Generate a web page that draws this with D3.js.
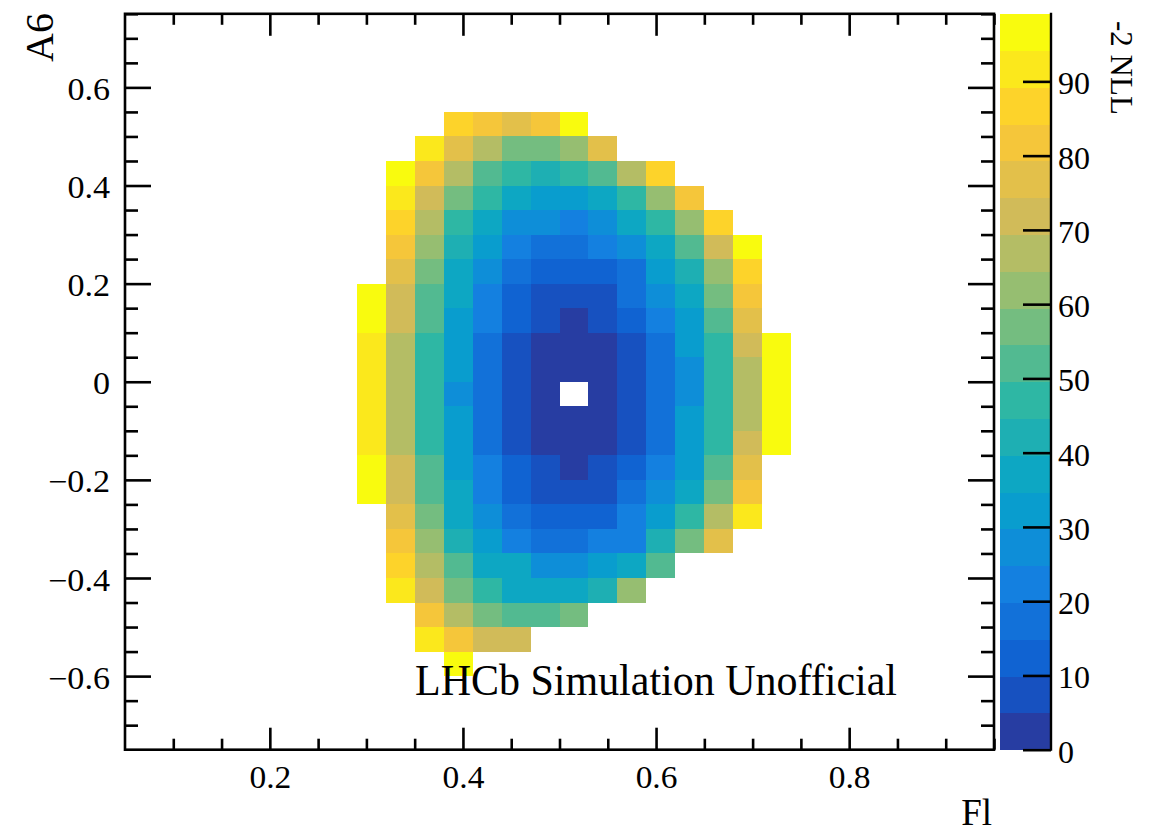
<!DOCTYPE html>
<html>
<head>
<meta charset="utf-8">
<script src="https://cdn.jsdelivr.net/npm/d3@7"></script>
<style>
  html, body { margin: 0; padding: 0; background: #ffffff; }
  text { font-family: "Liberation Serif", "Times New Roman", Times, serif; fill: #000; }
</style>
</head>
<body>
<svg id="chart" width="1159" height="832"></svg>
<script>
// ---------------- DATA ----------------
// Lower edges of the Fl bins that are shown (bin width 0.03)
const flBinLow = [0.29, 0.32, 0.35, 0.38, 0.41, 0.44, 0.47, 0.50, 0.53, 0.56, 0.59, 0.62, 0.65, 0.68, 0.71];
// Lower edges of the A6 bins, top row first (bin height 0.05)
const a6BinLow = [0.50, 0.45, 0.40, 0.35, 0.30, 0.25, 0.20, 0.15, 0.10, 0.05, 0.00, -0.05, -0.10,
                  -0.15, -0.20, -0.25, -0.30, -0.35, -0.40, -0.45, -0.50, -0.55, -0.60];
const flBinWidth = 0.03;
const a6BinWidth = 0.05;
// -2 NLL per cell (rows follow a6BinLow, columns follow flBinLow); null = not drawn
const nll = [
  [null, null, null, 86.5, 81.5, 76.6, 81.5, 96.3, null, null, null, null, null, null, null],
  [null, null, 91.4, 76.6, 66.7, 56.8, 56.8, 61.8, 76.6, null, null, null, null, null, null],
  [null, 96.3, 81.5, 66.7, 51.9, 46.9, 42.0, 46.9, 51.9, 66.7, 86.5, null, null, null, null],
  [null, 91.4, 71.6, 56.8, 46.9, 37.1, 32.1, 32.1, 37.1, 46.9, 61.8, 81.5, null, null, null],
  [null, 86.5, 66.7, 46.9, 37.1, 27.2, 27.2, 22.2, 27.2, 37.1, 46.9, 61.8, 86.5, null, null],
  [null, 81.5, 61.8, 42.0, 32.1, 22.2, 17.3, 17.3, 22.2, 27.2, 37.1, 51.9, 71.6, 96.3, null],
  [null, 76.6, 56.8, 37.1, 27.2, 17.3, 12.4, 12.4, 12.4, 17.3, 32.1, 42.0, 61.8, 86.5, null],
  [96.3, 71.6, 51.9, 37.1, 22.2, 12.4, 7.4, 7.4, 7.4, 17.3, 27.2, 37.1, 56.8, 81.5, null],
  [96.3, 71.6, 51.9, 32.1, 22.2, 12.4, 7.4, 2.5, 7.4, 12.4, 22.2, 32.1, 51.9, 76.6, null],
  [91.4, 66.7, 46.9, 32.1, 17.3, 7.4, 2.5, 2.5, 2.5, 7.4, 17.3, 32.1, 46.9, 71.6, 96.3],
  [91.4, 66.7, 46.9, 32.1, 17.3, 7.4, 2.5, 2.5, 2.5, 7.4, 17.3, 27.2, 46.9, 66.7, 96.3],
  [91.4, 66.7, 46.9, 27.2, 17.3, 7.4, 2.5, 0.0, 2.5, 7.4, 17.3, 27.2, 46.9, 66.7, 96.3],
  [91.4, 66.7, 46.9, 32.1, 17.3, 7.4, 2.5, 2.5, 2.5, 7.4, 17.3, 32.1, 46.9, 66.7, 96.3],
  [91.4, 66.7, 46.9, 32.1, 17.3, 7.4, 2.5, 2.5, 2.5, 7.4, 17.3, 32.1, 46.9, 71.6, 96.3],
  [96.3, 71.6, 51.9, 32.1, 22.2, 12.4, 7.4, 2.5, 7.4, 12.4, 22.2, 32.1, 51.9, 76.6, null],
  [96.3, 71.6, 51.9, 37.1, 22.2, 12.4, 7.4, 7.4, 7.4, 17.3, 27.2, 37.1, 56.8, 81.5, null],
  [null, 76.6, 56.8, 37.1, 27.2, 17.3, 12.4, 12.4, 12.4, 22.2, 32.1, 46.9, 66.7, 91.4, null],
  [null, 81.5, 61.8, 42.0, 32.1, 22.2, 17.3, 17.3, 22.2, 22.2, 42.0, 56.8, 76.6, null, null],
  [null, 86.5, 66.7, 51.9, 37.1, 37.1, 27.2, 27.2, 32.1, 37.1, 51.9, null, null, null, null],
  [null, 91.4, 71.6, 56.8, 46.9, 37.1, 37.1, 37.1, 42.0, 61.8, null, null, null, null, null],
  [null, null, 81.5, 66.7, 56.8, 51.9, 51.9, 56.8, null, null, null, null, null, null, null],
  [null, null, 91.4, 81.5, 71.6, 71.6, null, null, null, null, null, null, null, null, null],
  [null, null, null, 96.3, null, null, null, null, null, null, null, null, null, null, null]
];
const xMajorTicks = [0.2, 0.4, 0.6, 0.8];
const yMajorTicks = [-0.6, -0.4, -0.2, 0, 0.2, 0.4, 0.6];
const zTicks = [0, 10, 20, 30, 40, 50, 60, 70, 80, 90];
const zMax = 99.1;
const nLevels = 20;
const xTitle = "Fl";
const yTitle = "A6";
const zTitle = "-2 NLL";
const label = "LHCb Simulation Unofficial";

// ---------------- PALETTE (ROOT kBird) ----------------
const stops = [0.0, 0.125, 0.25, 0.375, 0.5, 0.625, 0.75, 0.875, 1.0];
const red   = [0.2082, 0.0592, 0.0780, 0.0232, 0.1802, 0.5301, 0.8186, 0.9956, 0.9764];
const green = [0.1664, 0.3599, 0.5041, 0.6419, 0.7178, 0.7492, 0.7328, 0.7862, 0.9832];
const blue  = [0.5293, 0.8111, 0.8814, 0.7902, 0.6425, 0.4662, 0.3499, 0.1968, 0.0539];
function bird(t) {
  let s = 1;
  while (s < stops.length - 1 && t > stops[s]) s++;
  const f = (t - stops[s - 1]) / (stops[s] - stops[s - 1]);
  const c = arr => Math.round(255 * (arr[s - 1] + f * (arr[s] - arr[s - 1])));
  return d3.rgb(c(red), c(green), c(blue)).formatHex();
}
const levelColors = d3.range(nLevels).map(i => {
  const idx = Math.floor((i + 0.99) * 255 / nLevels);
  return bird(Math.min(1, idx / 254));
});
const levelWidth = zMax / nLevels;
const colorOf = v => levelColors[Math.min(nLevels - 1, Math.floor(v / levelWidth))];

// ---------------- LAYOUT ----------------
const svg = d3.select("#chart");
const L = 125, R = 994, T = 13.8, B = 749.7;
const x = d3.scaleLinear().domain([0.05, 0.95]).range([L, R]);
const y = d3.scaleLinear().domain([-0.75, 0.75]).range([B, T]);
const z = d3.scaleLinear().domain([0, zMax]).range([B, T]);
const CB_L = 999.5, CB_R = 1051;
const lineW = 2.6;
const serif = '"Liberation Serif", "Times New Roman", Times, serif';

// ---------------- CELLS ----------------
const cells = [];
nll.forEach((row, r) => row.forEach((v, c) => {
  if (v !== null && v > 0) cells.push({ fl: flBinLow[c], a6: a6BinLow[r], v });
}));
svg.append("g").attr("shape-rendering", "crispEdges")
  .selectAll("rect").data(cells).join("rect")
  .attr("x", d => Math.round(x(d.fl)))
  .attr("y", d => Math.round(y(d.a6 + a6BinWidth)))
  .attr("width", d => Math.round(x(d.fl + flBinWidth)) - Math.round(x(d.fl)))
  .attr("height", d => Math.round(y(d.a6)) - Math.round(y(d.a6 + a6BinWidth)))
  .attr("fill", d => colorOf(d.v));

// ---------------- AXES ----------------
const minorX = d3.range(0.1, 0.951, 0.05).map(v => +v.toFixed(2)).filter(v => !xMajorTicks.some(m => Math.abs(m - v) < 1e-6));
const minorY = d3.range(-0.7, 0.751, 0.05).map(v => +v.toFixed(2)).filter(v => !yMajorTicks.some(m => Math.abs(m - v) < 1e-6));
const fmt = v => (v < 0 ? "\u2212" : "") + (Math.abs(v) === 0 ? "0" : d3.format(".1f")(Math.abs(v)));

function styleAxis(g) {
  g.attr("font-family", serif);
  g.select(".domain").remove();
  g.selectAll(".tick line").attr("stroke", "#000").attr("stroke-width", lineW);
}

// bottom
svg.append("g").attr("transform", `translate(0,${B})`)
  .call(d3.axisBottom(x).tickValues(minorX).tickSize(-11).tickFormat("")).call(styleAxis);
const gxb = svg.append("g").attr("transform", `translate(0,${B})`)
  .call(d3.axisBottom(x).tickValues(xMajorTicks).tickSize(-22).tickPadding(17).tickFormat(fmt)).call(styleAxis);
gxb.selectAll(".tick text").attr("dy", null).attr("y", 38.5)
  .style("font-family", serif).style("font-size", "31px").attr("transform", "scale(1.08,1)");
// top
svg.append("g").attr("transform", `translate(0,${T})`)
  .call(d3.axisTop(x).tickValues(minorX).tickSize(-11).tickFormat("")).call(styleAxis);
svg.append("g").attr("transform", `translate(0,${T})`)
  .call(d3.axisTop(x).tickValues(xMajorTicks).tickSize(-22).tickFormat("")).call(styleAxis);
// left
svg.append("g").attr("transform", `translate(${L},0)`)
  .call(d3.axisLeft(y).tickValues(minorY).tickSize(-13).tickFormat("")).call(styleAxis);
const gyl = svg.append("g").attr("transform", `translate(${L},0)`)
  .call(d3.axisLeft(y).tickValues(yMajorTicks).tickSize(-26).tickPadding(15).tickFormat(fmt)).call(styleAxis);
gyl.selectAll(".tick text").attr("dy", null).attr("y", 12)
  .style("font-family", serif).style("font-size", "31px")
  .attr("transform", "translate(-15,0) scale(1.1,1) translate(15,0)");
// right
svg.append("g").attr("transform", `translate(${R},0)`)
  .call(d3.axisRight(y).tickValues(minorY).tickSize(-13).tickFormat("")).call(styleAxis);
svg.append("g").attr("transform", `translate(${R},0)`)
  .call(d3.axisRight(y).tickValues(yMajorTicks).tickSize(-26).tickFormat("")).call(styleAxis);

// frame
svg.append("rect").attr("x", L).attr("y", T).attr("width", R - L).attr("height", B - T)
  .attr("fill", "none").attr("stroke", "#000").attr("stroke-width", lineW);

// ---------------- COLOR BAR ----------------
svg.append("g").attr("shape-rendering", "crispEdges")
  .selectAll("rect").data(d3.range(nLevels)).join("rect")
  .attr("x", CB_L).attr("width", CB_R - CB_L)
  .attr("y", i => z((i + 1) * levelWidth))
  .attr("height", i => z(i * levelWidth) - z((i + 1) * levelWidth) + 0.5)
  .attr("fill", i => levelColors[i]);
const gz = svg.append("g").attr("transform", `translate(${CB_R},0)`)
  .call(d3.axisRight(z).tickValues(zTicks).tickSize(-28).tickPadding(7).tickFormat(d3.format("d")));
gz.attr("font-family", serif);
gz.select(".domain").remove();
gz.selectAll(".tick line").attr("stroke", "#000").attr("stroke-width", lineW);
gz.selectAll(".tick text").attr("dy", null).attr("y", 12.5)
  .style("font-family", serif).style("font-size", "32px");
svg.append("line").attr("x1", CB_R).attr("x2", CB_R).attr("y1", T - 1).attr("y2", B + 1)
  .attr("stroke", "#000").attr("stroke-width", 2.4);

// ---------------- TITLES ----------------
svg.append("text").attr("x", 992).attr("y", 825).attr("text-anchor", "end")
  .style("font-size", "37px").text(xTitle);
svg.append("text").attr("transform", "translate(53,13) rotate(-90)").attr("text-anchor", "end")
  .style("font-size", "40px").text(yTitle);
svg.append("text").attr("transform", "translate(1111,21) rotate(90)").attr("text-anchor", "start")
  .style("font-size", "31px").text(zTitle);
svg.append("text").attr("x", 415).attr("y", 695)
  .attr("textLength", 482).attr("lengthAdjust", "spacingAndGlyphs")
  .style("font-size", "44px").text(label);
</script>
</body>
</html>
